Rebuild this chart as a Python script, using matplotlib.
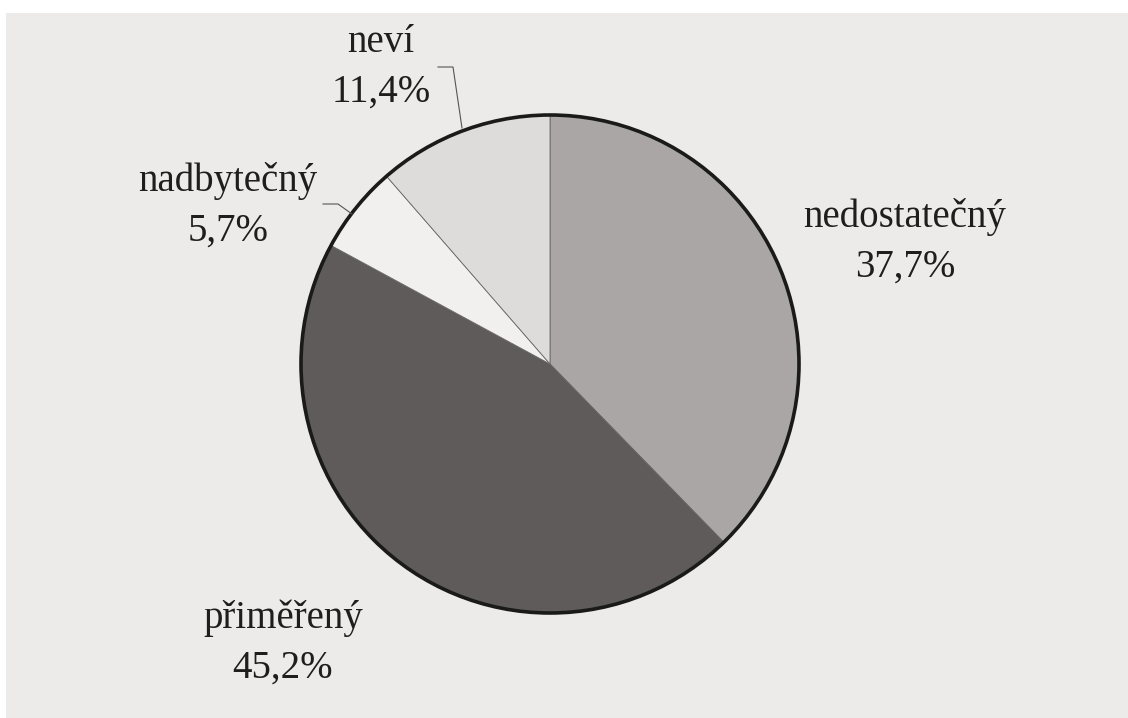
import matplotlib
matplotlib.use("Agg")
import matplotlib.pyplot as plt
from matplotlib.patches import Rectangle, Circle

# --- data ---
labels = ["nedostatečný", "přiměřený", "nadbytečný", "neví"]
values = [37.7, 45.2, 5.7, 11.4]
colors = ["#aaa6a6", "#5f5b5b", "#f1f0ef", "#dedcdb"]

# label positions in pixel coords (y measured from top)
label_pos = [(905, 242), (283, 643), (228, 206), (381, 67)]

W, H = 1128, 718
plt.rcParams["font.family"] = ["Liberation Serif", "DejaVu Serif"]

fig = plt.figure(figsize=(W / 100, H / 100), dpi=100)
fig.patch.set_facecolor("white")
ax = fig.add_axes([0, 0, 1, 1])

# paper background (scan has a white margin top/left)
ax.add_patch(Rectangle((6, 0), W - 6, H - 13, facecolor="#ecebe9",
                       edgecolor="none", zorder=0))

cx, cy, r = 550, H - 364, 249
ax.pie(values, colors=colors, startangle=90, counterclock=False,
       center=(cx, cy), radius=r, frame=True,
       wedgeprops=dict(edgecolor="#6a6666", linewidth=0.6))
ax.add_patch(Circle((cx, cy), r, fill=False, edgecolor="#1a1a1a",
                    linewidth=2.6, zorder=5))
ax.set_xlim(0, W)
ax.set_ylim(0, H)
ax.set_aspect("auto")
ax.axis("off")

for lab, v, (x, y) in zip(labels, values, label_pos):
    txt = f"{lab}\n{v:.1f}%".replace(".", ",")
    ax.text(x, H - y, txt, ha="center", va="center", fontsize=28,
            color="#1e1e1e", linespacing=1.45, zorder=6)

# leader lines for the two small slices
ax.plot([438, 453, 462], [H - 67, H - 67, H - 128], color="#555", lw=0.8, zorder=6)
ax.plot([323, 338, 352], [H - 204, H - 204, H - 214], color="#555", lw=0.8, zorder=6)

fig.savefig("out.png", dpi=100, facecolor=fig.get_facecolor())
